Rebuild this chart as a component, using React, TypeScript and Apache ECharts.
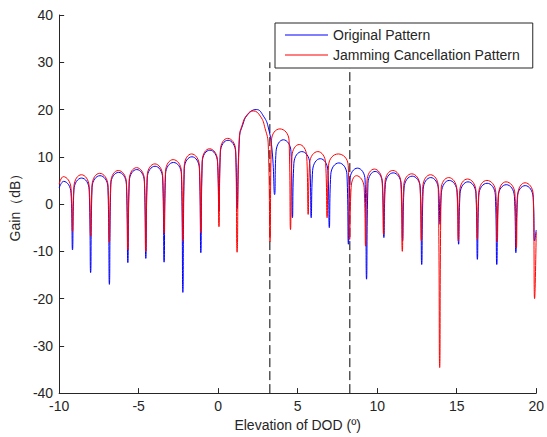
import React, { useEffect, useRef } from "react";
import * as echarts from "echarts";

const xTicks = { min: -10, max: 20, interval: 5 };
const yTicks = { min: -40, max: 40, interval: 10 };

const seriesNames = ["Original Pattern", "Jamming Cancellation Pattern"];

// Original Pattern (blue): [elevation, gain dB]
const originalPattern: [number, number][] = [
  [-10, 3.4], [-9.72, 4.8], [-9.25, 2.3], [-9.16, -9.7],
  [-9.07, 3.0], [-8.59, 5.5], [-8.11, 3.0], [-8.02, -14.5],
  [-7.93, 3.5], [-7.43, 6.0], [-6.93, 3.5], [-6.84, -17],
  [-6.75, 4.2], [-6.26, 6.7], [-5.77, 4.2], [-5.68, -12.4],
  [-5.59, 4.8], [-5.12, 7.3], [-4.64, 4.8], [-4.55, -11.5],
  [-4.46, 5.5], [-3.97, 8.0], [-3.49, 5.5], [-3.4, -12.3],
  [-3.31, 6.3], [-2.81, 8.8], [-2.31, 6.3], [-2.22, -18.7],
  [-2.13, 7.5], [-1.65, 10.0], [-1.18, 7.5], [-1.09, -10.3],
  [-1.0, 8.9], [-0.52, 11.4], [-0.04, 8.9], [0.05, -1.5],
  [0.14, 11.0], [0.62, 13.5], [1.1, 11.0], [1.19, -1],
  [1.34, 14], [1.54, 16.7], [1.85, 18.9], [2.4, 20.0], [2.85, 18.6], [3.16, 16.1], [3.4, 11], [3.55, 2],
  [3.64, 11.1], [4.1, 13.6], [4.58, 11.1], [4.67, -2.9],
  [4.76, 8.6], [5.26, 11.1], [5.76, 8.6], [5.85, -2.9],
  [5.94, 7.1], [6.42, 9.6], [6.9, 7.1], [6.99, -5],
  [7.08, 6.2], [7.59, 8.7], [8.1, 6.2], [8.19, -8.5],
  [8.28, 5.1], [8.76, 7.6], [9.24, 5.1], [9.33, -15.9],
  [9.42, 4.4], [9.87, 6.9], [10.33, 4.4], [10.42, -7.1],
  [10.51, 4.1], [11.01, 6.6], [11.51, 4.1], [11.6, -7.8],
  [11.69, 3.4], [12.2, 5.9], [12.71, 3.4], [12.8, -12.8],
  [12.89, 3.1], [13.37, 5.6], [13.86, 3.1], [13.95, -4.3],
  [14.04, 2.5], [14.53, 5.0], [15.03, 2.5], [15.12, -8.5],
  [15.21, 2.2], [15.71, 4.7], [16.21, 2.2], [16.3, -11.7],
  [16.39, 1.9], [16.91, 4.4], [17.43, 1.9], [17.52, -12.8],
  [17.61, 1.6], [18.12, 4.1], [18.63, 1.6], [18.72, -10.3],
  [18.81, 1.4], [19.31, 3.9], [19.81, 1.4], [19.9, -7.8],
  [20, -5.5],
];

// Jamming Cancellation Pattern (red)
const cancelledPattern: [number, number][] = [
  [-10, 4.2], [-9.74, 5.8], [-9.25, 3.3], [-9.16, -5.8],
  [-9.07, 3.7], [-8.6, 6.2], [-8.11, 3.7], [-8.02, -6.8],
  [-7.93, 4.0], [-7.45, 6.5], [-6.93, 4.0], [-6.84, -8.1],
  [-6.75, 4.6], [-6.28, 7.1], [-5.77, 4.6], [-5.68, -9.7],
  [-5.59, 5.2], [-5.13, 7.7], [-4.64, 5.2], [-4.55, -10],
  [-4.46, 6.0], [-3.98, 8.5], [-3.49, 6.0], [-3.4, -6.2],
  [-3.31, 6.9], [-2.83, 9.4], [-2.31, 6.9], [-2.22, -7.8],
  [-2.13, 8.1], [-1.67, 10.6], [-1.18, 8.1], [-1.09, -6.1],
  [-1.0, 9.2], [-0.54, 11.7], [-0.04, 9.2], [0.05, -4.8],
  [0.14, 11.4], [0.6, 13.9], [1.1, 11.4], [1.19, -10.2],
  [1.33, 14], [1.52, 16.8], [1.8, 18.8], [2.2, 19.7], [2.65, 18.6], [2.95, 16.0], [3.15, 12.5], [3.26, -8],
  [3.35, 13.4], [3.88, 15.9], [4.46, 13.4], [4.55, -5.4],
  [4.64, 10.1], [5.1, 12.6], [5.57, 10.1], [5.66, -2.2],
  [5.75, 8.6], [6.27, 11.1], [6.76, 8.6], [6.85, -2.9],
  [6.94, 8.1], [7.55, 10.6], [8.18, 8.1], [8.27, -7.5],
  [8.36, 3.5], [8.7, 6.0], [9.18, 3.5], [9.27, -8.9],
  [9.36, 4.9], [9.82, 7.4], [10.31, 4.9], [10.4, -6.4],
  [10.49, 4.6], [10.98, 7.1], [11.49, 4.6], [11.58, -10],
  [11.67, 3.9], [12.17, 6.4], [12.69, 3.9], [12.78, -7.8],
  [12.87, 3.7], [13.35, 6.2], [13.84, 3.7], [13.93, -34.6],
  [14.02, 3.1], [14.5, 5.6], [15.01, 3.1], [15.1, -7.8],
  [15.19, 2.8], [15.68, 5.3], [16.21, 2.8], [16.3, -7.5],
  [16.39, 2.5], [16.9, 5.0], [17.46, 2.5], [17.55, -8],
  [17.64, 2.2], [18.1, 4.7], [18.66, 2.2], [18.75, -9.3],
  [18.84, 2.0], [19.3, 4.5], [19.81, 2.0], [19.9, -20],
  [20, -6],
];

// Jamming directions (dashed markers): x position, and y range
const jammerAngles = [3.25, 8.28];
const jammerLineRange = [-40, 30];

const FONT = "'Liberation Sans', Arial, sans-serif";
const TEXT = "#262626";

export default function App() {
  const ref = useRef<HTMLDivElement>(null);
  useEffect(() => {
    if (!ref.current) return;
    const chart = echarts.init(ref.current, undefined, { renderer: "svg" });
    const dashed = jammerAngles.map((a, i) => ({
      name: "jam" + i,
      type: "line",
      data: jammerLineRange.map((y) => [a, y]),
      showSymbol: false,
      silent: true,
      lineStyle: { color: "#000", width: 1, type: [9, 4] },
      z: 1,
    }));
    chart.setOption({
      animation: false,
      backgroundColor: "#fff",
      textStyle: { fontFamily: FONT },
      grid: { left: 56.5, right: 7, top: 15, bottom: 43, containLabel: false },
      legend: {
        data: seriesNames,
        orient: "vertical",
        left: 275,
        top: 23,
        padding: [5, 13, 6, 10],
        itemGap: 6,
        itemWidth: 43,
        itemHeight: 1,
        icon: "rect",
        borderColor: TEXT,
        borderWidth: 1,
        backgroundColor: "#fff",
        textStyle: { fontSize: 14, color: TEXT, fontFamily: FONT },
      },
      xAxis: {
        type: "value",
        min: xTicks.min,
        max: xTicks.max,
        interval: xTicks.interval,
        name: "Elevation of DOD (º)",
        nameLocation: "middle",
        nameGap: 24,
        nameTextStyle: { fontSize: 14, color: TEXT, fontFamily: FONT },
        axisLine: { onZero: false, lineStyle: { color: TEXT, width: 1 } },
        axisTick: { inside: true, length: 5, lineStyle: { color: TEXT } },
        axisLabel: { fontSize: 14, color: TEXT, margin: 6, fontFamily: FONT },
        splitLine: { show: false },
      },
      yAxis: {
        type: "value",
        min: yTicks.min,
        max: yTicks.max,
        interval: yTicks.interval,
        name: "Gain（dB）",
        nameLocation: "middle",
        nameGap: 36,
        nameTextStyle: { fontSize: 14, color: TEXT, fontFamily: FONT },
        axisLine: { show: true, onZero: false, lineStyle: { color: TEXT, width: 1 } },
        axisTick: { show: true, inside: true, length: 5, lineStyle: { color: TEXT } },
        axisLabel: { fontSize: 14, color: TEXT, margin: 6, fontFamily: FONT },
        splitLine: { show: false },
      },
      series: [
        {
          name: seriesNames[0],
          type: "line",
          data: originalPattern,
          showSymbol: false,
          smooth: 0.5,
          color: "#0000ff",
          lineStyle: { color: "#0000ff", width: 1 },
          z: 2,
        },
        {
          name: seriesNames[1],
          type: "line",
          data: cancelledPattern,
          showSymbol: false,
          smooth: 0.5,
          color: "#ff0000",
          lineStyle: { color: "#ff0000", width: 1 },
          z: 3,
        },
        ...dashed,
      ],
    });
    return () => chart.dispose();
  }, []);
  return (
    <div
      ref={ref}
      style={{ position: "absolute", left: 0, top: 0, width: 547, height: 437, background: "#fff" }}
    />
  );
}
